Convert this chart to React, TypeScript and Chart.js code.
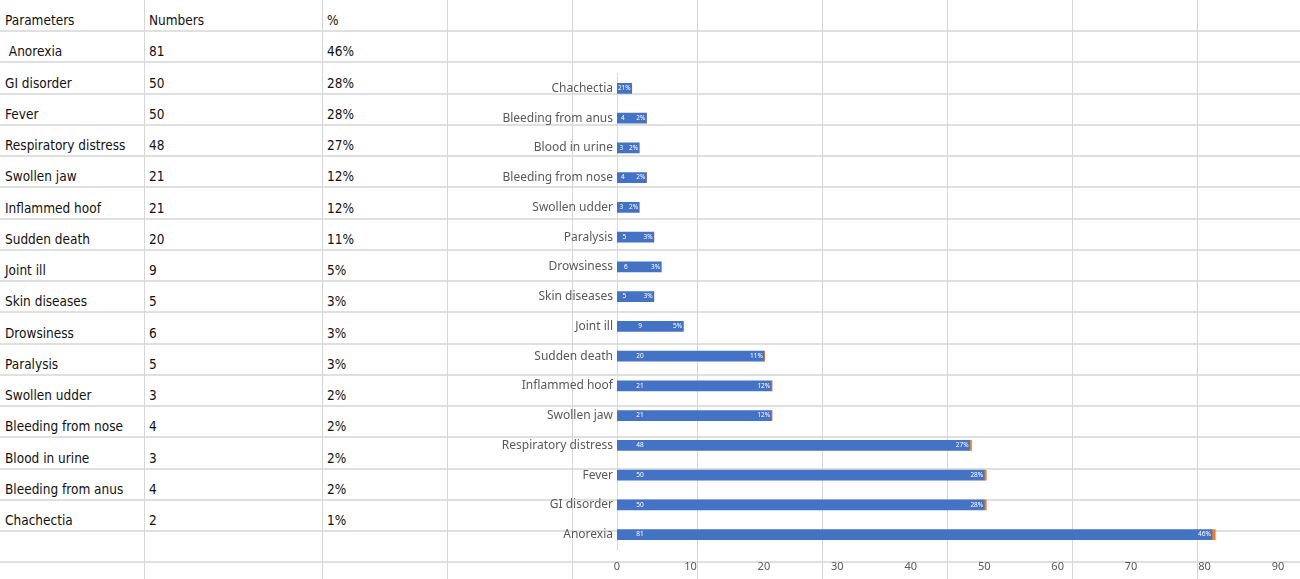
import React, { useEffect, useRef } from "react";
import { Chart, registerables } from "chart.js";

Chart.register(...registerables);

// ---- data ----
const headers = ["Parameters", "Numbers", "%"];
const parameters = [
  " Anorexia",
  "GI disorder",
  "Fever",
  "Respiratory distress",
  "Swollen jaw",
  "Inflammed hoof",
  "Sudden death",
  "Joint ill",
  "Skin diseases",
  "Drowsiness",
  "Paralysis",
  "Swollen udder",
  "Bleeding from nose",
  "Blood in urine",
  "Bleeding from anus",
  "Chachectia",
];
const numbers = [81, 50, 50, 48, 21, 21, 20, 9, 5, 6, 5, 3, 4, 3, 4, 2];
const percents = [46, 28, 28, 27, 12, 12, 11, 5, 3, 3, 3, 2, 2, 2, 2, 1];
const xMin = 0;
const xMax = 90;
const xStep = 10;

// ---- sheet layout (styling) ----
const W = 1300;
const H = 579;
const colLines = [144, 322, 447, 572, 697, 822, 947, 1072, 1197];
const colTextX = [5, 149, 327];
const rowTop = 31;
const rowH = 31.25;
const rowCount = 17;

const tableFont = '"DejaVu Sans Condensed", "DejaVu Sans", sans-serif';
const chartFont = '"Noto Sans", "Open Sans", sans-serif';

const labelPlugin = {
  id: "barLabels",
  afterDatasetsDraw(chart: any) {
    const ctx = chart.ctx;
    const meta = chart.getDatasetMeta(0);
    ctx.save();
    ctx.fillStyle = "#ffffff";
    ctx.font = `6.5px ${chartFont}`;
    ctx.textBaseline = "middle";
    meta.data.forEach((bar: any, i: number) => {
      const p = bar.getProps(["x", "y", "base"], true);
      const w = p.x - p.base;
      const off = w < 50 ? w / 5 : 23;
      ctx.textAlign = "center";
      ctx.fillText(String(numbers[i]), p.base + off, p.y);
      ctx.textAlign = "right";
      ctx.fillText(percents[i] + "%", p.x - 1, p.y);
    });
    ctx.restore();
  },
};

function BarChart() {
  const ref = useRef<HTMLCanvasElement | null>(null);
  useEffect(() => {
    if (!ref.current) return;
    const chart = new Chart(ref.current, {
      type: "bar",
      data: {
        labels: parameters.map((s) => s.trim()),
        datasets: [
          {
            label: "Numbers",
            data: numbers,
            backgroundColor: "#4472C4",
            barThickness: 10,
          },
          {
            label: "%",
            data: percents.map((p) => p / 100),
            backgroundColor: "#ED7D31",
            barThickness: 10,
          },
        ],
      },
      options: {
        indexAxis: "y",
        animation: false,
        responsive: false,
        devicePixelRatio: 1,
        layout: { padding: { top: 11.5, right: 22, bottom: 0, left: 0 } },
        plugins: {
          legend: { display: false },
          tooltip: { enabled: false },
        },
        scales: {
          x: {
            stacked: true,
            min: xMin,
            max: xMax,
            ticks: {
              stepSize: xStep,
              color: "#595959",
              font: { family: chartFont, size: 11 },
              padding: 11,
            },
            grid: { display: false, drawTicks: false },
            border: { display: false },
            afterFit: (s: any) => {
              s.height = 29.5;
            },
          },
          y: {
            stacked: true,
            reverse: true,
            ticks: {
              color: "#595959",
              font: { family: chartFont, size: 12 },
              padding: 4,
              autoSkip: false,
            },
            grid: { display: false, drawTicks: false },
            border: { display: true, color: "#d9d9d9", width: 1 },
            afterFit: (s: any) => {
              s.width = 169;
            },
          },
        },
      },
      plugins: [labelPlugin],
    } as any);
    return () => chart.destroy();
  }, []);
  return (
    <canvas
      ref={ref}
      width={852}
      height={517}
      style={{ position: "absolute", left: 448, top: 62, width: 852, height: 517 }}
    />
  );
}

export default function App() {
  const rowBottoms: number[] = [rowTop];
  for (let k = 1; k <= rowCount; k++) rowBottoms.push(rowTop + rowH * k);

  const textStyle = (x: number, bottom: number): React.CSSProperties => ({
    position: "absolute",
    left: x,
    top: bottom - 20,
    height: 20,
    lineHeight: "20px",
    fontFamily: tableFont,
    fontStretch: "condensed",
    fontSize: 13.5,
    color: "#111",
    whiteSpace: "pre",
  });

  return (
    <div
      style={{
        position: "absolute",
        left: 0,
        top: 0,
        width: W,
        height: H,
        overflow: "hidden",
        background: "#ffffff",
      }}
    >
      {rowBottoms.map((y, i) => (
        <div
          key={"r" + i}
          style={{
            position: "absolute",
            left: 0,
            top: y - 1,
            width: W,
            height: 2,
            background: "#e0e0e0",
          }}
        />
      ))}
      {colLines.map((x, i) => (
        <div
          key={"c" + i}
          style={{
            position: "absolute",
            left: x,
            top: 0,
            width: 1,
            height: H,
            background: "#d6d6d6",
          }}
        />
      ))}
      {headers.map((h, c) => (
        <div key={"h" + c} style={textStyle(colTextX[c], rowTop - 1)}>
          {h}
        </div>
      ))}
      {parameters.map((p, i) => {
        const b = rowBottoms[i + 1] - 1;
        return (
          <React.Fragment key={"t" + i}>
            <div style={textStyle(colTextX[0], b)}>{p}</div>
            <div style={textStyle(colTextX[1], b)}>{String(numbers[i])}</div>
            <div style={textStyle(colTextX[2], b)}>{percents[i] + "%"}</div>
          </React.Fragment>
        );
      })}
      <BarChart />
    </div>
  );
}
